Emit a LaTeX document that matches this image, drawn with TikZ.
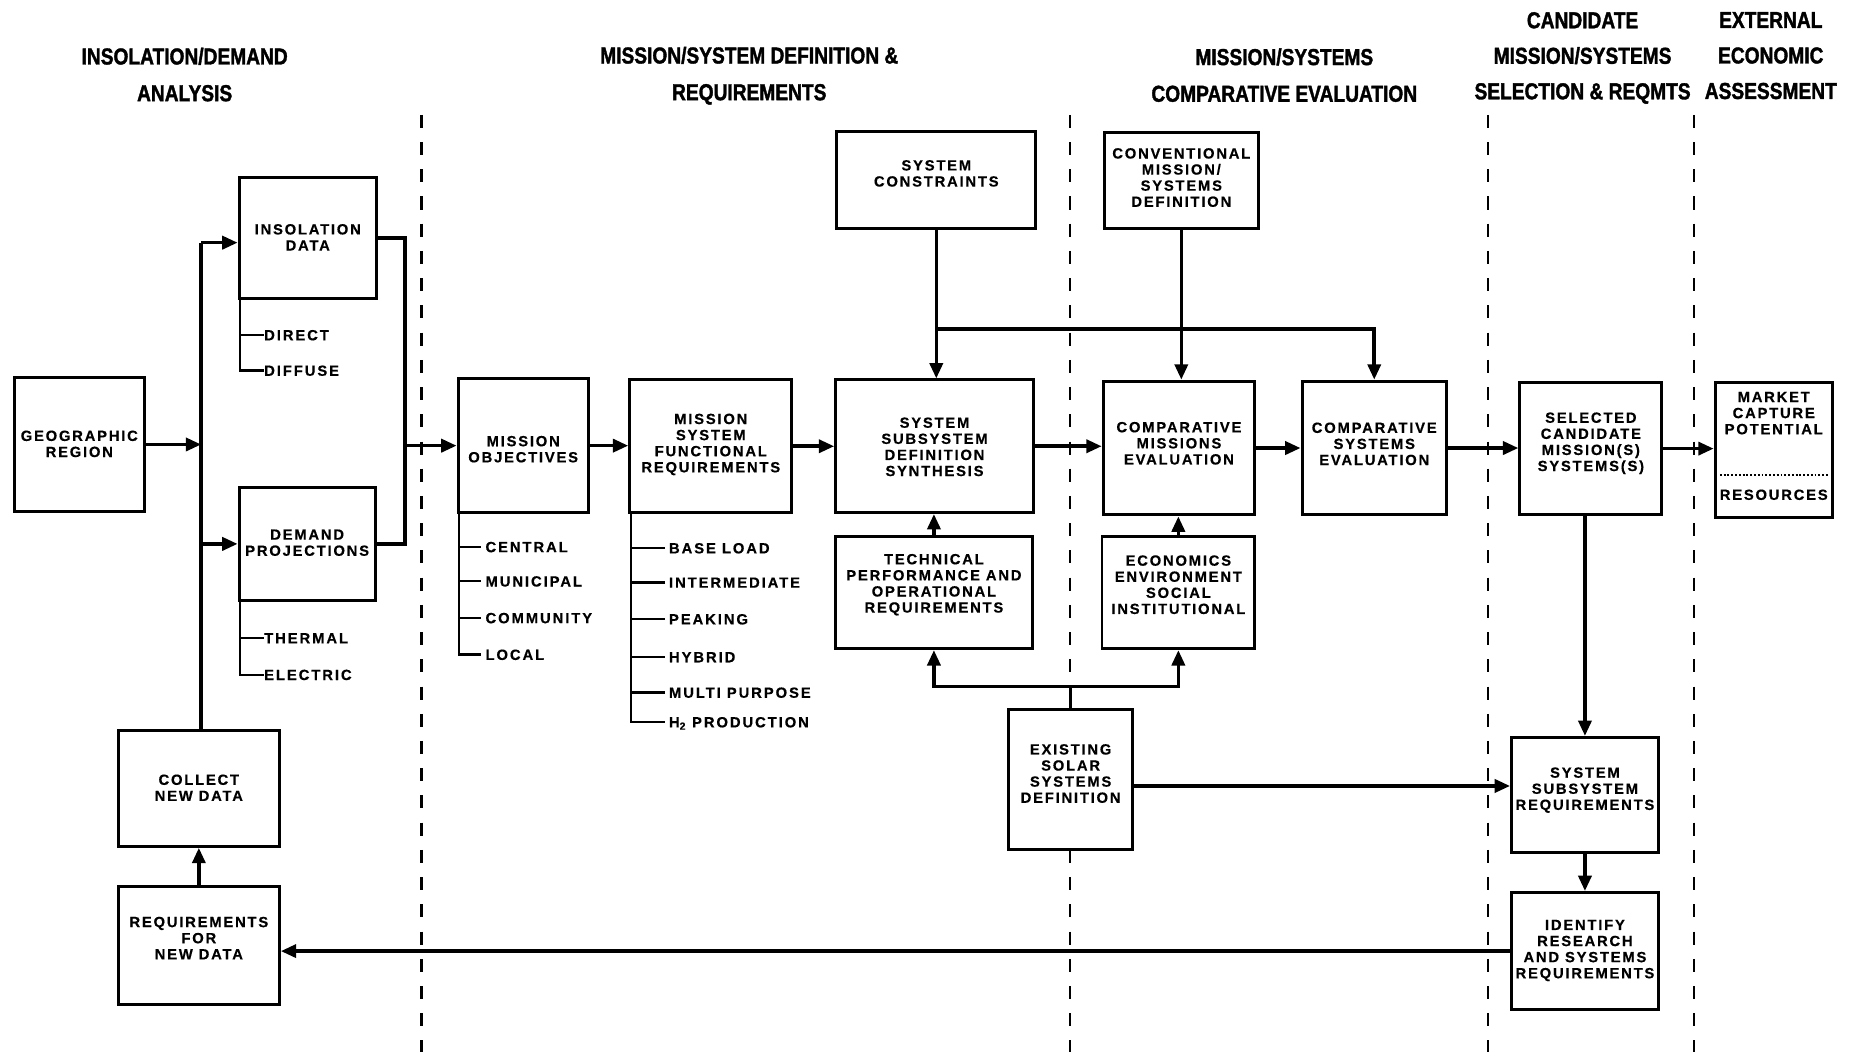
\documentclass[tikz,border=0pt]{standalone}
\usepackage{fontspec}
\usetikzlibrary{arrows.meta}
\newfontfamily\boxfont[LetterSpace=12,FakeBold=0.4]{Liberation Sans}
\newfontfamily\listfont[LetterSpace=13,FakeBold=0.4]{Liberation Sans}
\newfontfamily\headfont[FakeStretch=0.83,FakeBold=1.5]{Liberation Sans}
\newcommand\mybox[7]{%
  \node[box, minimum width=#4pt, minimum height=#5pt] (#1) at (#2,#3) {};
  \node[btxt] (#1t) at (#2,#6) {#7};}
\begin{document}
\begin{tikzpicture}[x=1pt,y=-1pt,
  box/.style={draw, fill=white, line width=2.5pt, inner sep=0pt},
  btxt/.style={font={\boxfont\bfseries\fontsize{12.5}{13.6}\selectfont}, align=center, inner sep=0pt},
  ltxt/.style={font={\listfont\bfseries\fontsize{12.5}{14}\selectfont}, anchor=west, inner sep=0pt, text height=9pt, text depth=0pt},
  htxt/.style={font={\headfont\bfseries\fontsize{19.5}{31}\selectfont}, align=center, inner sep=0pt},
  arr/.style={line width=3pt, -{Triangle[length=13pt,width=11pt]}},
  conn/.style={line width=3pt},
  sub/.style={line width=2pt},
  sep/.style={line width=2pt, dash pattern=on 11pt off 12pt},
]
\fill[white] (0,0) rectangle (1568,889);
\useasboundingbox (0,0) rectangle (1568,889);

% headings
\node[htxt] (h1) at (156,63) {INSOLATION/DEMAND\\ANALYSIS};
\node[htxt] (h2) at (633,64) {MISSION/SYSTEM DEFINITION \&\\REQUIREMENTS};
\node[htxt] (h3) at (1085,63.5) {MISSION/SYSTEMS\\COMPARATIVE EVALUATION};
\node[htxt, font={\headfont\bfseries\fontsize{19.5}{30}\selectfont}] (h4) at (1337,49) {CANDIDATE\\MISSION/SYSTEMS\\SELECTION \& REQMTS};
\node[htxt, font={\headfont\bfseries\fontsize{19.5}{30}\selectfont}] (h5) at (1496,47) {EXTERNAL\\ECONOMIC\\ASSESSMENT};

% separators
\draw[sep] (356,97) -- (356,889);
\draw[sep] (904,97) -- (904,889);
\draw[sep] (1257,97) -- (1257,889);
\draw[sep] (1431,97) -- (1431,889);

% boxes
\mybox{geo}{67}{375.5}{110}{113}{375}{GEOGRAPHIC\\REGION}
\mybox{ins}{260}{201}{116}{102}{200.5}{INSOLATION\\DATA}
\mybox{dem}{259.5}{459.5}{115}{95}{458.5}{DEMAND\\PROJECTIONS}
\mybox{cnd}{168}{666}{136}{98}{665.5}{COLLECT\\NEW DATA}
\mybox{rnd}{168}{799}{136}{100}{792.5}{REQUIREMENTS\\FOR\\NEW DATA}
\mybox{mo}{442}{376.5}{110}{113}{379.5}{MISSION\\OBJECTIVES}
\mybox{msfr}{600.5}{377}{137}{112}{375.5}{MISSION\\SYSTEM\\FUNCTIONAL\\REQUIREMENTS}
\mybox{sc}{791}{152}{168}{82}{146.5}{SYSTEM\\CONSTRAINTS}
\mybox{cmsd}{998}{152.5}{130}{81}{150}{CONVENTIONAL\\MISSION/\\SYSTEMS\\DEFINITION}
\mybox{ssds}{789.5}{377}{167}{112}{377.5}{SYSTEM\\SUBSYSTEM\\DEFINITION\\SYNTHESIS}
\mybox{tpor}{789}{500.5}{166}{95}{494}{TECHNICAL\\PERFORMANCE AND\\OPERATIONAL\\REQUIREMENTS}
\mybox{cme}{996}{378.5}{128}{113}{374.5}{COMPARATIVE\\MISSIONS\\EVALUATION}
\mybox{esi}{995.5}{500.5}{129}{95}{494}{ECONOMICS\\ENVIRONMENT\\SOCIAL\\INSTITUTIONAL}
\mybox{cse}{1161}{378.5}{122}{113}{375}{COMPARATIVE\\SYSTEMS\\EVALUATION}
\mybox{sel}{1344}{379}{120}{112}{374.5}{SELECTED\\CANDIDATE\\MISSION(S)\\SYSTEMS(S)}
\mybox{mkt}{1498.5}{380}{99}{114}{349}{MARKET\\CAPTURE\\POTENTIAL}
\node[btxt] (mktr) at (1498.5,418) {RESOURCES};
\draw[line width=1.6pt, dash pattern=on 1.6pt off 1.6pt] (1453,401) -- (1545,401);
\mybox{ssr}{1339}{671.5}{124}{97}{667.5}{SYSTEM\\SUBSYSTEM\\REQUIREMENTS}
\mybox{irs}{1339}{803.5}{124}{99}{803}{IDENTIFY\\RESEARCH\\AND SYSTEMS\\REQUIREMENTS}

% sub lists
\node[ltxt] (l1) at (223,283) {DIRECT};
\node[ltxt] (l2) at (223,313) {DIFFUSE};
\coordinate (insB) at (203,252);
\draw[sub] (insB) |- (l2.west);
\draw[sub] (insB |- l1.west) -- (l1.west);

\node[ltxt] (l3) at (223,539) {THERMAL};
\node[ltxt] (l4) at (223,570) {ELECTRIC};
\coordinate (demB) at (203,507);
\draw[sub] (demB) |- (l4.west);
\draw[sub] (demB |- l3.west) -- (l3.west);

\node[ltxt] (m1) at (410,462) {CENTRAL};
\node[ltxt] (m2) at (410,491) {MUNICIPAL};
\node[ltxt] (m3) at (410,522) {COMMUNITY};
\node[ltxt] (m4) at (410,553) {LOCAL};
\coordinate (moB) at (388,433);
\draw[sub] (moB) |- ([xshift=-4pt]m4.west);
\foreach \n in {m1,m2,m3} \draw[sub] (moB |- \n.west) -- ([xshift=-4pt]\n.west);

\node[ltxt] (f1) at (565,463) {BASE LOAD};
\node[ltxt] (f2) at (565,492) {INTERMEDIATE};
\node[ltxt] (f3) at (565,523) {PEAKING};
\node[ltxt] (f4) at (565,555) {HYBRID};
\node[ltxt] (f5) at (565,585) {MULTI PURPOSE};
\node[ltxt] (f6) at (565,610) {H\textsubscript{2} PRODUCTION};
\coordinate (msB) at (533,433);
\draw[sub] (msB) |- ([xshift=-3pt]f6.west);
\foreach \n in {f1,f2,f3,f4,f5} \draw[sub] (msB |- \n.west) -- ([xshift=-3pt]\n.west);

% left part connectors
\coordinate (busT) at (170,205);
\draw[conn] (cnd.north -| busT) -- (busT);
\draw[arr] (busT) -- (busT -| ins.west);
\draw[arr] (busT |- dem.west) -- (dem.west);
\draw[arr] (geo.east) -- (geo.east -| busT);
\coordinate (mrg) at (342,376.5);
\draw[conn] (ins.east) -- (ins.east -| mrg) -- (dem.east -| mrg) -- (dem.east);
\draw[arr] (mo.west -| mrg) -- (mo.west);
\draw[arr] (rnd.north) -- (cnd.south);
\draw[arr] (irs.west) -- (irs.west -| rnd.east);

% main chain
\draw[arr] (mo.east) -- (mo.east -| msfr.west);
\draw[arr] (msfr.east) -- (msfr.east -| ssds.west);
\draw[arr] (ssds.east) -- (ssds.east -| cme.west);
\draw[arr] (cme.east) -- (cme.east -| cse.west);
\draw[arr] (cse.east) -- (cse.east -| sel.west);
\draw[arr] (sel.east) -- (sel.east -| mkt.west);

% top inputs
\coordinate (jn) at (791,278);
\draw[arr] (sc.south) -- (sc.south |- ssds.north);
\draw[arr] (jn) -- (jn -| cse.north) -- (cse.north);
\draw[arr] (cmsd.south) -- (cmsd.south |- cme.north);

% bottom inputs
\draw[arr] (tpor.north) -- (tpor.north |- ssds.south);
\draw[arr] (esi.north) -- (esi.north |- cme.south);
\coordinate (sp) at (904.5,580);
\mybox{essd}{904.5}{658.5}{105}{119}{653.5}{EXISTING\\SOLAR\\SYSTEMS\\DEFINITION}
\draw[conn] (essd.north) -- (sp);
\draw[arr] (sp) -- (sp -| tpor.south) -- (tpor.south);
\draw[arr] (sp) -- (sp -| esi.south) -- (esi.south);

% right column
\coordinate (ssrIn) at ([yshift=7.5pt]ssr.west);
\draw[arr] (essd.east |- ssrIn) -- (ssrIn);
\draw[arr] (sel.south -| ssr.north) -- (ssr.north);
\draw[arr] (ssr.south) -- (irs.north);
\end{tikzpicture}
\end{document}
